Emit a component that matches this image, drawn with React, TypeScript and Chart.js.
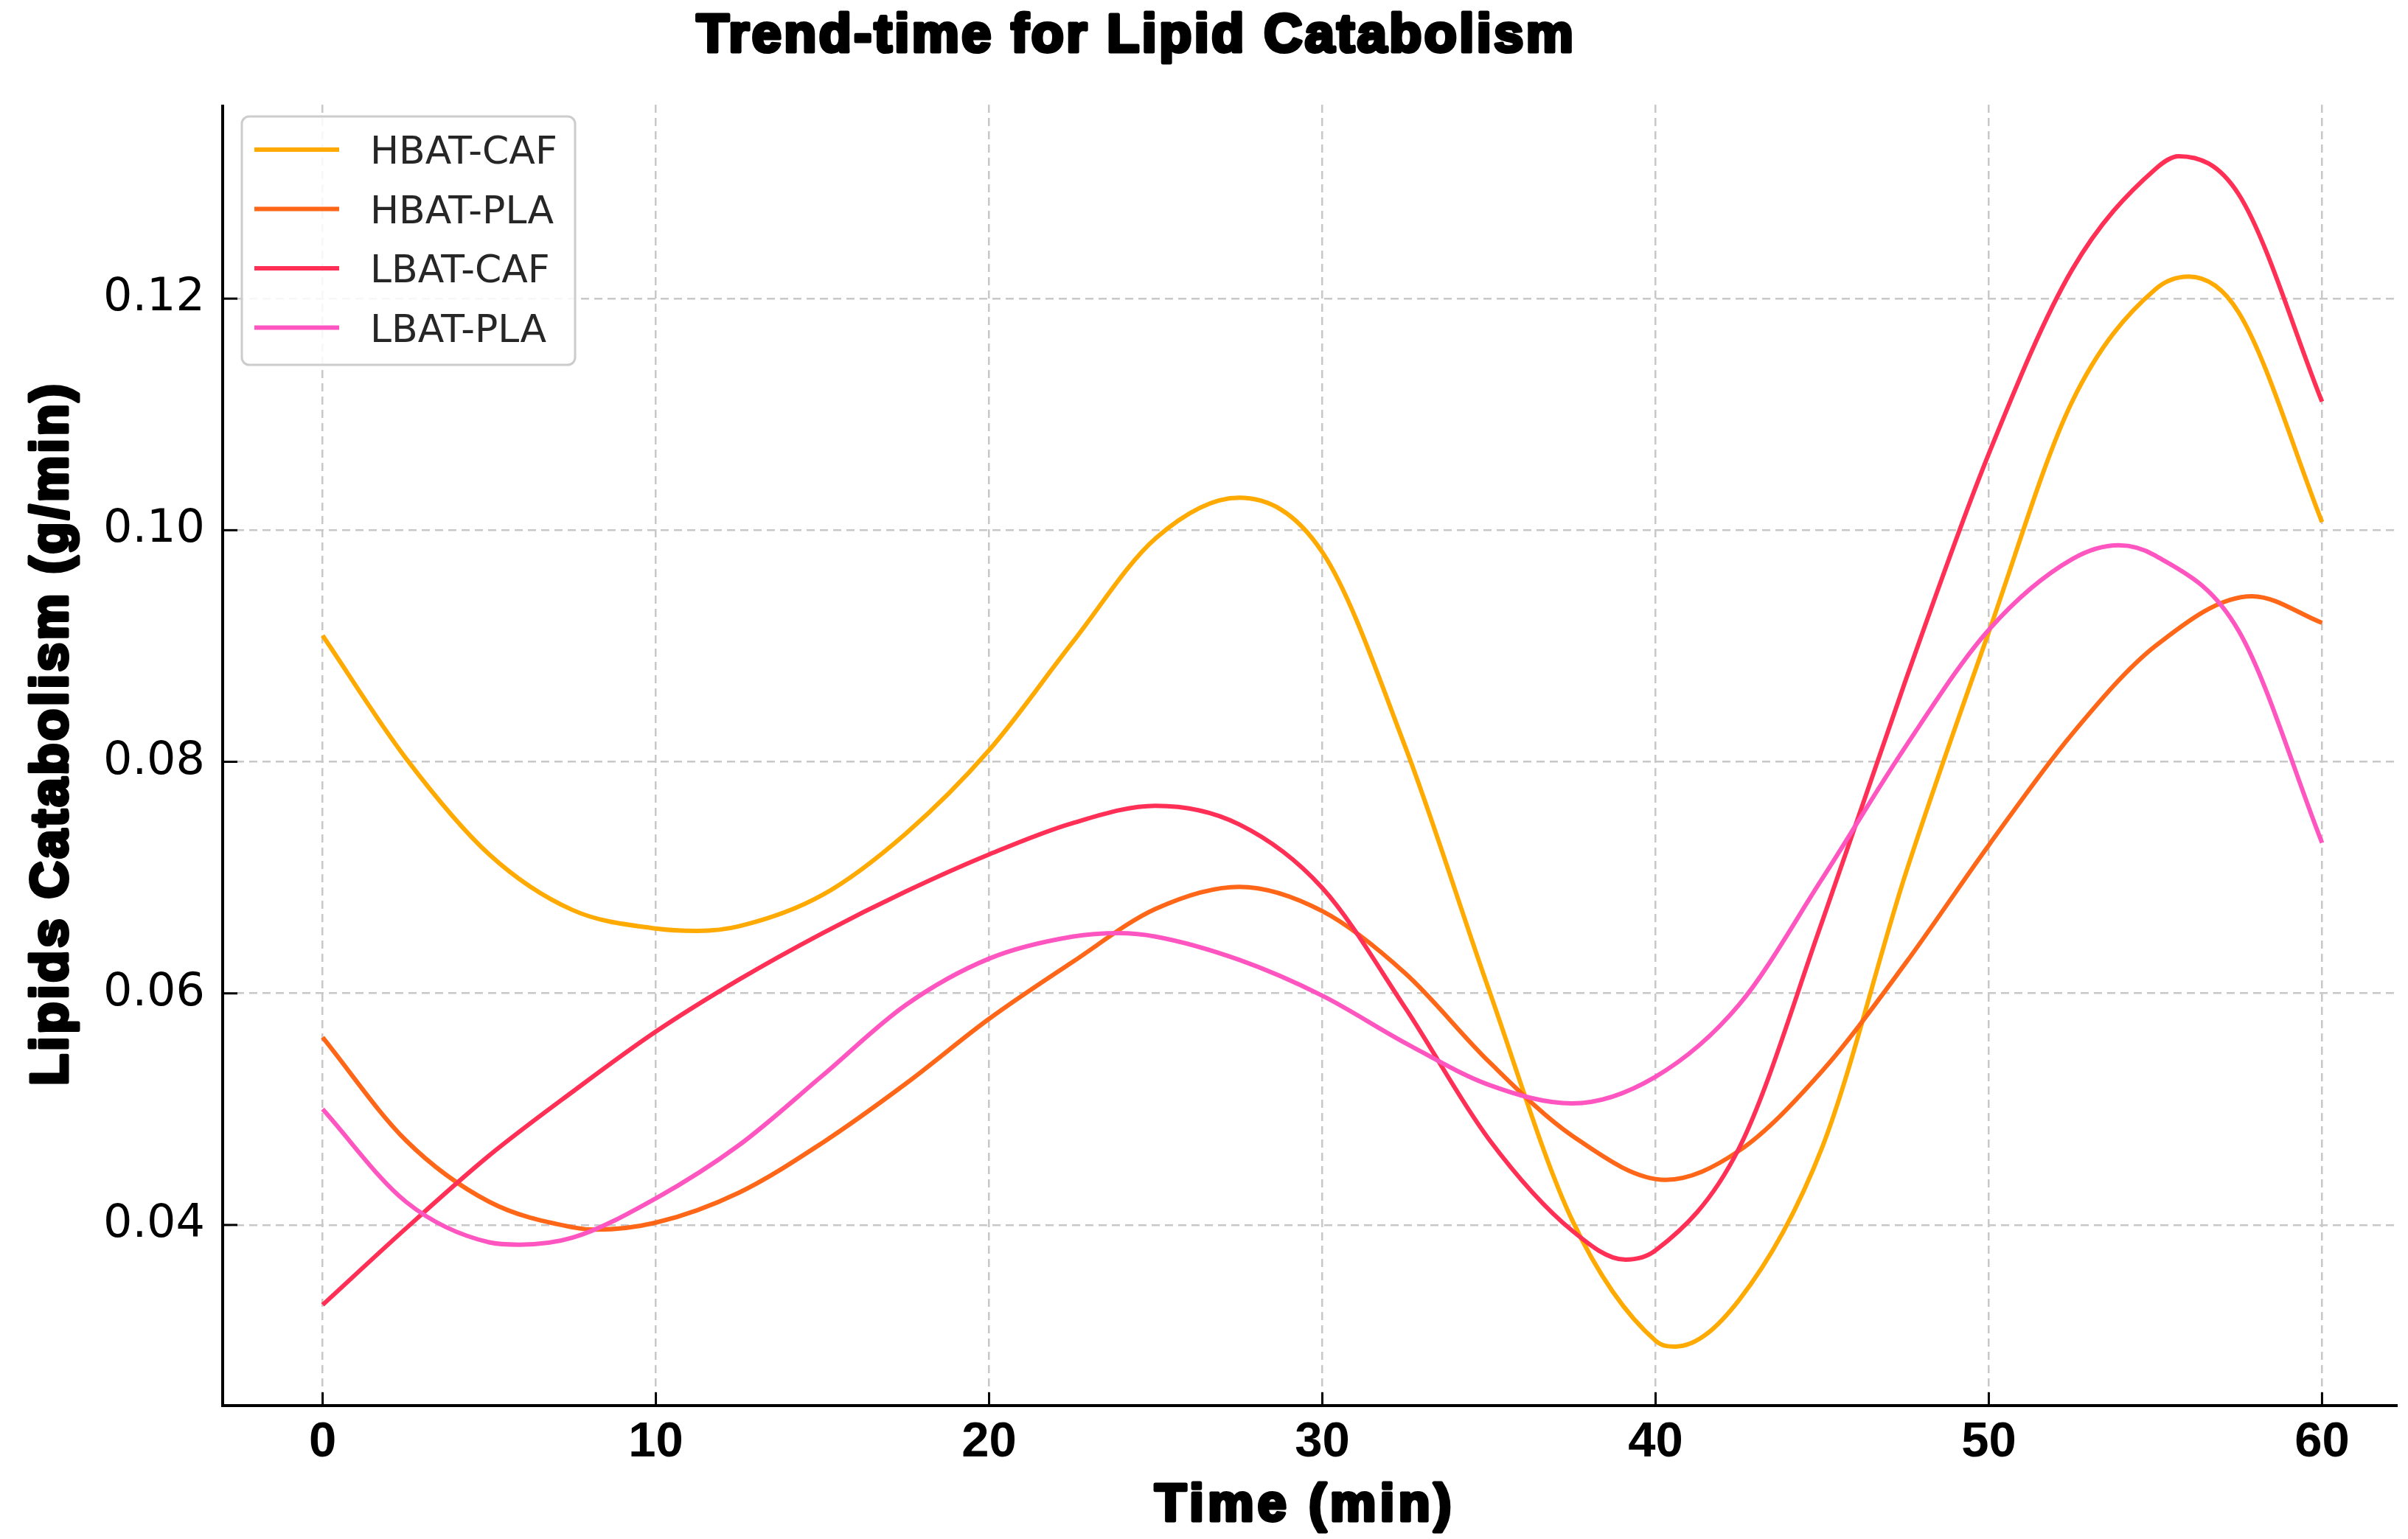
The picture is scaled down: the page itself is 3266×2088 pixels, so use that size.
import { useEffect, useRef } from 'react';
import { Chart, registerables } from 'chart.js';

Chart.register(...registerables);

// values (every 2.5 min, plus each turning point)
const hbatCafTime = [0, 2.5, 5, 7.5, 10, 11.25, 12.5, 15, 17.5, 20, 22.5, 25, 27.5, 30, 32.5, 35, 37.5, 40, 40.6, 42.5, 45, 47.5, 50, 52.5, 55, 56, 57.5, 60];
const hbatCafValues = [0.0909, 0.0803, 0.0720, 0.0672, 0.0656, 0.0654, 0.0658, 0.0685, 0.0738, 0.0810, 0.0903, 0.0993, 0.1028, 0.0981, 0.0812, 0.0603, 0.0404, 0.0300, 0.0295, 0.0335, 0.0467, 0.0703, 0.0912, 0.1111, 0.1208, 0.1219, 0.1188, 0.1007];

const hbatPlaTime = [0, 2.5, 5, 7.5, 8.2, 10, 12.5, 15, 17.5, 20, 22.5, 25, 27.5, 30, 32.5, 35, 37.5, 40.3, 42.5, 45, 47.5, 50, 52.5, 55, 57.9, 60];
const hbatPlaValues = [0.0562, 0.0473, 0.0420, 0.0398, 0.0396, 0.0402, 0.0428, 0.0471, 0.0522, 0.0578, 0.0627, 0.0673, 0.0692, 0.0671, 0.0617, 0.0541, 0.0477, 0.0439, 0.0464, 0.0533, 0.0626, 0.0728, 0.0824, 0.0900, 0.0943, 0.0920];

const lbatCafTime = [0, 2.5, 5, 7.5, 10, 12.5, 15, 17.5, 20, 22.5, 25, 27.5, 30, 32.5, 35, 37.5, 39.1, 40, 42.5, 45, 47.5, 50, 52.5, 55, 55.7, 57.5, 60];
const lbatCafValues = [0.0331, 0.0397, 0.0460, 0.0515, 0.0567, 0.0612, 0.0652, 0.0688, 0.0720, 0.0747, 0.0762, 0.0746, 0.0691, 0.0587, 0.0474, 0.0395, 0.0370, 0.0378, 0.0466, 0.0662, 0.0870, 0.1066, 0.1225, 0.1312, 0.1323, 0.1290, 0.1111];

const lbatPlaTime = [0, 2.5, 5, 5.9, 7.5, 10, 12.5, 15, 17.5, 20, 22.5, 23.9, 25, 27.5, 30, 32.5, 35, 37.5, 40, 42.5, 45, 47.5, 50, 52.5, 53.9, 55, 57.5, 60];
const lbatPlaValues = [0.0500, 0.0420, 0.0385, 0.0383, 0.0389, 0.0423, 0.0469, 0.0529, 0.0590, 0.0630, 0.0649, 0.0652, 0.0649, 0.0629, 0.0598, 0.0557, 0.0521, 0.0505, 0.0528, 0.0590, 0.0699, 0.0813, 0.0914, 0.0975, 0.0987, 0.0978, 0.0913, 0.0730];

const seriesLabels = ['HBAT-CAF', 'HBAT-PLA', 'LBAT-CAF', 'LBAT-PLA'];
const seriesTimes = [hbatCafTime, hbatPlaTime, lbatCafTime, lbatPlaTime];
const seriesValues = [hbatCafValues, hbatPlaValues, lbatCafValues, lbatPlaValues];
const seriesColors = ['#FFAA00', '#FF6618', '#FF2F55', '#FF55C0'];

const xTickValues = [0, 10, 20, 30, 40, 50, 60];
const yTickValues = [0.04, 0.06, 0.08, 0.1, 0.12];

const chartTitle = 'Trend-time for Lipid Catabolism';
const xTitle = 'Time (min)';
const yTitle = 'Lipids Catabolism (g/min)';

const W = 3266;
const H = 2088;

function heavyText(ctx: CanvasRenderingContext2D, text: string, x: number, y: number, size: number, spacing: number, rotate = false) {
  ctx.save();
  ctx.translate(x, y);
  if (rotate) ctx.rotate(-Math.PI / 2);
  ctx.font = `bold ${size}px "Liberation Sans", Arial, sans-serif`;
  (ctx as any).letterSpacing = `${spacing}px`;
  ctx.textAlign = 'center';
  ctx.textBaseline = 'alphabetic';
  ctx.fillStyle = '#000';
  ctx.strokeStyle = '#000';
  ctx.lineWidth = 5;
  ctx.lineJoin = 'round';
  ctx.fillText(text, 0, 0);
  ctx.strokeText(text, 0, 0);
  ctx.restore();
}

const decorPlugin = {
  id: 'decor',
  afterDraw(chart: Chart) {
    const { ctx, chartArea: a, scales } = chart;
    ctx.save();

    // spines (left + bottom only)
    ctx.strokeStyle = '#000';
    ctx.lineWidth = 4;
    ctx.beginPath();
    ctx.moveTo(a.left, a.top);
    ctx.lineTo(a.left, a.bottom);
    ctx.lineTo(a.right, a.bottom);
    ctx.stroke();

    // inward tick marks
    ctx.lineWidth = 3;
    xTickValues.forEach(v => {
      const px = scales.x.getPixelForValue(v);
      ctx.beginPath();
      ctx.moveTo(px, a.bottom);
      ctx.lineTo(px, a.bottom - 18);
      ctx.stroke();
    });
    yTickValues.forEach(v => {
      const py = scales.y.getPixelForValue(v);
      ctx.beginPath();
      ctx.moveTo(a.left, py);
      ctx.lineTo(a.left + 20, py);
      ctx.stroke();
    });

    // legend box, upper left inside the axes
    const lx = a.left + 26;
    const ly = a.top + 16;
    ctx.beginPath();
    ctx.roundRect(lx, ly, 452, 337, 10);
    ctx.fillStyle = 'rgba(255,255,255,0.85)';
    ctx.fill();
    ctx.strokeStyle = '#cccccc';
    ctx.lineWidth = 3;
    ctx.stroke();

    ctx.font = '52px "DejaVu Sans", sans-serif';
    ctx.textAlign = 'left';
    ctx.textBaseline = 'alphabetic';
    seriesLabels.forEach((label, i) => {
      const rowY = ly + 45 + i * 80.5;
      ctx.strokeStyle = seriesColors[i];
      ctx.lineWidth = 6;
      ctx.beginPath();
      ctx.moveTo(lx + 17, rowY);
      ctx.lineTo(lx + 132, rowY);
      ctx.stroke();
      ctx.fillStyle = '#262626';
      ctx.fillText(label, lx + 174, rowY + 19);
    });

    // title and axis titles
    heavyText(ctx, chartTitle, 1541, 70, 72, 3.5);
    heavyText(ctx, xTitle, 1770, 2063, 70, 5.5);
    heavyText(ctx, yTitle, 91, 995, 70, 4, true);

    ctx.restore();
  },
};

export default function App() {
  const chartRef = useRef<HTMLCanvasElement>(null);
  const chartInstance = useRef<Chart | null>(null);

  useEffect(() => {
    if (!chartRef.current) return;
    if (chartInstance.current) chartInstance.current.destroy();

    const ctx = chartRef.current.getContext('2d');
    if (!ctx) return;

    chartInstance.current = new Chart(ctx, {
      type: 'line',
      data: {
        datasets: seriesLabels.map((label, i) => ({
          label,
          data: seriesTimes[i].map((t, j) => ({ x: t, y: seriesValues[i][j] })),
          borderColor: seriesColors[i],
          backgroundColor: seriesColors[i],
          borderWidth: 6,
          pointRadius: 0,
          cubicInterpolationMode: 'monotone' as const,
          fill: false,
          order: seriesLabels.length - i,
        })),
      },
      options: {
        responsive: true,
        maintainAspectRatio: false,
        animation: false,
        devicePixelRatio: 1,
        layout: { padding: { top: 142, right: 14, left: 0, bottom: 0 } },
        plugins: {
          legend: { display: false },
          title: { display: false },
          tooltip: { enabled: false },
        },
        scales: {
          x: {
            type: 'linear',
            min: -3,
            max: 62.27,
            afterBuildTicks: (s: any) => {
              s.ticks = xTickValues.map(v => ({ value: v }));
            },
            afterFit: (s: any) => {
              s.height = 181;
            },
            ticks: {
              color: '#000',
              padding: 10,
              font: { family: '"Liberation Sans", Arial, sans-serif', size: 67, weight: 'bold' },
              callback: (v: any) => String(v),
            },
            grid: { color: '#c8c8c8', lineWidth: 2.5, drawTicks: false },
            border: { display: false, dash: [11, 7] },
          },
          y: {
            type: 'linear',
            min: 0.0244,
            max: 0.13675,
            afterBuildTicks: (s: any) => {
              s.ticks = yTickValues.map(v => ({ value: v }));
            },
            afterFit: (s: any) => {
              s.width = 302;
            },
            ticks: {
              color: '#000',
              padding: 24,
              font: { family: '"DejaVu Sans", sans-serif', size: 62 },
              callback: (v: any) => Number(v).toFixed(2),
            },
            grid: { color: '#c8c8c8', lineWidth: 2.5, drawTicks: false },
            border: { display: false, dash: [11, 7] },
          },
        },
      },
      plugins: [decorPlugin],
    });

    return () => {
      if (chartInstance.current) {
        chartInstance.current.destroy();
        chartInstance.current = null;
      }
    };
  }, []);

  return (
    <div style={{ position: 'absolute', left: 0, top: 0, width: W, height: H, background: '#fff' }}>
      <canvas ref={chartRef}></canvas>
    </div>
  );
}
